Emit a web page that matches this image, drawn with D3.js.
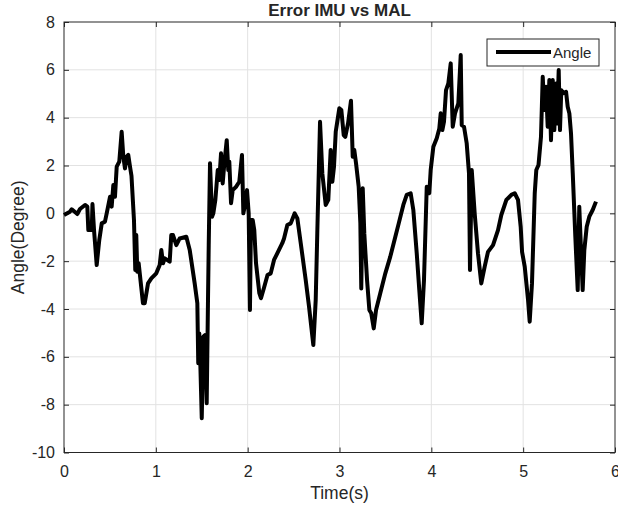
<!DOCTYPE html>
<html>
<head>
<meta charset="utf-8">
<title>Error IMU vs MAL</title>
<script src="https://d3js.org/d3.v7.min.js"></script>
<style>
  body { margin: 0; background: #fff; }
  text { font-family: "Liberation Sans", Arial, sans-serif; fill: #262626; }
</style>
</head>
<body>
<div id="chart"></div>
<script>
// data
var time = [0.00,0.065,0.084,0.145,0.174,0.229,0.254,0.265,0.302,0.310,0.327,0.356,0.384,0.411,0.446,0.465,0.501,0.519,0.537,0.555,
  0.574,0.602,0.628,0.646,0.664,0.683,0.700,0.719,0.735,0.762,0.776,0.787,0.798,0.813,0.860,0.879,0.915,0.951,1.005,1.042,
  1.060,1.078,1.097,1.151,1.168,1.187,1.223,1.260,1.332,1.369,1.423,1.452,1.462,1.473,1.484,1.500,1.517,1.535,1.554,1.568,
  1.576,1.590,1.612,1.626,1.648,1.674,1.691,1.710,1.728,1.746,1.772,1.789,1.800,1.819,1.837,1.873,1.909,1.938,1.953,1.974,
  1.993,2.011,2.025,2.036,2.055,2.072,2.091,2.127,2.145,2.181,2.216,2.251,2.287,2.341,2.377,2.396,2.432,2.469,2.512,2.541,
  2.578,2.632,2.668,2.715,2.741,2.758,2.788,2.813,2.850,2.878,2.904,2.922,2.940,2.959,2.973,2.998,3.020,3.046,3.063,3.093,
  3.125,3.144,3.161,3.180,3.209,3.227,3.237,3.253,3.270,3.300,3.325,3.346,3.373,3.398,3.444,3.499,3.553,3.608,3.645,3.695,
  3.732,3.775,3.804,3.841,3.869,3.895,3.920,3.950,3.978,3.993,4.022,4.059,4.087,4.102,4.120,4.138,4.160,4.185,4.211,4.233,
  4.258,4.294,4.320,4.331,4.356,4.385,4.410,4.421,4.440,4.472,4.508,4.544,4.581,4.617,4.672,4.726,4.762,4.817,4.871,4.908,
  4.944,4.973,4.988,5.017,5.053,5.071,5.096,5.126,5.143,5.167,5.194,5.213,5.230,5.249,5.267,5.285,5.303,5.322,5.339,5.358,
  5.369,5.387,5.401,5.415,5.437,5.467,5.485,5.503,5.521,5.540,5.568,5.594,5.611,5.630,5.648,5.666,5.692,5.720,5.757,5.793];
var angle = [-0.07,0.07,0.17,-0.03,0.18,0.35,0.28,-0.70,-0.70,0.39,-0.70,-2.16,-1.12,-0.42,-0.35,0.00,0.69,0.28,1.18,0.69,
  1.95,2.16,3.41,2.37,1.88,2.37,2.44,1.95,1.56,-0.28,-2.37,-0.91,-2.44,-2.09,-3.76,-3.76,-2.93,-2.72,-2.51,-2.16,
  -1.53,-2.09,-1.88,-2.02,-0.91,-0.91,-1.33,-1.05,-0.98,-1.53,-2.93,-3.76,-6.27,-5.02,-6.22,-8.57,-5.16,-5.09,-7.94,-3.62,
  -1.33,2.09,-0.14,0.00,0.56,1.81,1.39,2.51,1.25,2.09,3.06,1.81,2.16,0.42,0.97,1.11,1.32,2.44,0.00,0.42,
  0.97,0.00,-4.04,-0.28,-0.28,-0.70,-2.09,-3.34,-3.55,-3.07,-2.58,-2.51,-1.95,-1.53,-1.25,-1.05,-0.49,-0.42,0.00,-0.21,
  -1.25,-2.79,-3.90,-5.51,-3.62,-0.84,3.83,1.67,0.35,0.56,2.65,1.32,1.95,3.41,3.76,4.39,4.32,3.27,3.20,3.76,
  4.71,2.37,2.65,2.09,1.11,-0.42,-3.14,1.05,-0.84,-2.79,-4.04,-4.18,-4.81,-4.04,-3.34,-2.51,-1.81,-0.98,-0.42,0.35,
  0.77,0.84,0.14,-1.67,-3.21,-4.60,-2.79,1.11,0.84,1.81,2.78,3.14,3.55,4.18,3.48,3.83,5.15,5.43,6.27,3.62,
  4.18,4.60,6.62,3.69,3.62,2.93,1.67,-2.37,1.81,0.00,-1.67,-2.93,-2.23,-1.61,-1.33,-0.70,-0.07,0.56,0.77,0.84,
  0.56,-0.56,-1.61,-2.23,-3.62,-4.53,-2.93,0.84,1.81,2.02,3.20,5.71,4.32,5.29,3.62,5.57,3.06,5.57,3.48,5.43,
  3.76,5.99,3.48,5.15,5.02,5.08,4.46,4.18,3.34,1.67,-0.98,-3.21,0.28,-1.53,-3.21,-1.53,-0.56,-0.14,0.14,0.49];
var xTicks = [0, 1, 2, 3, 4, 5, 6];
var yTicks = [-10, -8, -6, -4, -2, 0, 2, 4, 6, 8];

var W = 618, H = 513;
var margin = {top: 22, right: 3, bottom: 60.5, left: 64},
    width = W - margin.left - margin.right,
    height = H - margin.top - margin.bottom;

var svg = d3.select("#chart").append("svg")
  .attr("width", W).attr("height", H);
var g = svg.append("g")
  .attr("transform", "translate(" + margin.left + "," + margin.top + ")");

var x = d3.scaleLinear().domain([0, 6]).range([0, width]);
var y = d3.scaleLinear().domain([-10, 8]).range([height, 0]);
var fmt = function(d) { return String(d); };   // plain hyphen, like matlab

// grid
g.append("g").selectAll("line").data(xTicks.slice(1, -1)).enter().append("line")
  .attr("x1", function(d) { return x(d); }).attr("x2", function(d) { return x(d); })
  .attr("y1", 0).attr("y2", height)
  .attr("stroke", "#e2e2e2").attr("stroke-width", 1);
g.append("g").selectAll("line").data(yTicks.slice(1, -1)).enter().append("line")
  .attr("y1", function(d) { return y(d); }).attr("y2", function(d) { return y(d); })
  .attr("x1", 0).attr("x2", width)
  .attr("stroke", "#e2e2e2").attr("stroke-width", 1);

// axes with inward ticks (matlab style)
var axStyle = function(sel) {
  sel.select(".domain").remove();
  sel.selectAll(".tick line").attr("stroke", "#262626");
  sel.selectAll(".tick text").style("font-size", "16px").attr("fill", "#262626");
};
g.append("g").attr("transform", "translate(0," + height + ")")
  .call(d3.axisBottom(x).tickValues(xTicks).tickFormat(fmt).tickSizeInner(-5).tickSizeOuter(0).tickPadding(13))
  .call(axStyle);
g.append("g")
  .call(d3.axisLeft(y).tickValues(yTicks).tickFormat(fmt).tickSizeInner(-5).tickSizeOuter(0).tickPadding(9))
  .call(axStyle);
g.append("g")
  .call(d3.axisTop(x).tickValues(xTicks).tickFormat("").tickSizeInner(-5).tickSizeOuter(0))
  .call(axStyle);
g.append("g").attr("transform", "translate(" + width + ",0)")
  .call(d3.axisRight(y).tickValues(yTicks).tickFormat("").tickSizeInner(-5).tickSizeOuter(0))
  .call(axStyle);

// box
g.append("rect").attr("width", width).attr("height", height)
  .attr("fill", "none").attr("stroke", "#262626").attr("stroke-width", 1);

// the line
var line = d3.line()
  .x(function(d, i) { return x(time[i]); })
  .y(function(d) { return y(d); });
g.append("path").datum(angle)
  .attr("d", line)
  .attr("fill", "none")
  .attr("stroke", "#000")
  .attr("stroke-width", 4)
  .attr("stroke-linejoin", "round");

// legend
var leg = g.append("g").attr("transform", "translate(" + (width - 128) + ",17)");
leg.append("rect").attr("width", 112).attr("height", 27)
  .attr("fill", "#fff").attr("stroke", "#262626").attr("stroke-width", 1);
leg.append("line").attr("x1", 9).attr("x2", 64).attr("y1", 13).attr("y2", 13)
  .attr("stroke", "#000").attr("stroke-width", 4);
leg.append("text").attr("x", 66).attr("y", 18.5).style("font-size", "15px").text("Angle");

// labels
svg.append("text")
  .attr("x", margin.left + width / 2).attr("y", 16)
  .attr("text-anchor", "middle")
  .style("font-size", "17px").style("font-weight", "bold")
  .attr("fill", "#000")
  .text("Error IMU vs MAL");
svg.append("text")
  .attr("x", margin.left + width / 2).attr("y", 499)
  .attr("text-anchor", "middle")
  .style("font-size", "17.5px")
  .text("Time(s)");
svg.append("text")
  .attr("transform", "translate(24," + (margin.top + height / 2) + ") rotate(-90)")
  .attr("text-anchor", "middle")
  .style("font-size", "17.5px")
  .text("Angle(Degree)");
</script>
</body>
</html>
